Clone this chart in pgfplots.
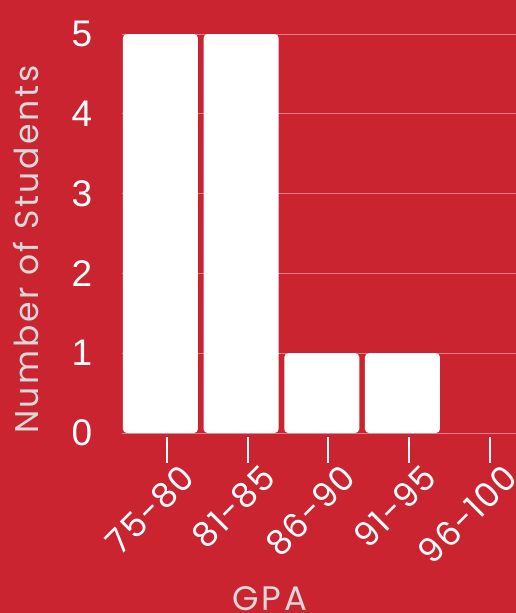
\documentclass[border=0pt]{standalone}
\usepackage{fontspec}
\setmainfont{Liberation Sans}
\newfontfamily\pop{Poppins}[LetterSpace=4]
\newfontfamily\popw{Poppins}[LetterSpace=8]
\usepackage{pgfplots}
\pgfplotsset{compat=1.18}
\definecolor{bg}{HTML}{CB2431}
\definecolor{lbl}{HTML}{D9D9D9}
\begin{document}
\begin{tikzpicture}
\useasboundingbox (0,0) rectangle (516pt,613pt);
\clip (0,0) rectangle (516pt,613pt);
\fill[bg] (0,0) rectangle (516pt,613pt);
\begin{axis}[
  at={(122.5pt,180pt)}, anchor=south west,
  scale only axis, width=393.5pt, height=399pt,
  xmin=-0.47, xmax=4.408, ymin=0, ymax=5,
  axis line style={draw=none},
  ymajorgrids, grid style={draw=white!40!bg, line width=0.8pt},
  ytick={0,1,2,3,4,5},
  ytick style={draw=none},
  tick pos=left,
  /pgf/number format/assume math mode=true,
  yticklabel style={font=\fontsize{37}{40}\selectfont, text=white, anchor=east, inner sep=0pt, xshift=-4pt},
  xtick={0.08,1.08,2.08,3.08,4.08},
  xticklabels={75-80,81-85,86-90,91-95,96-100},
  tick align=outside,
  major tick length=26pt,
  xtick style={draw=white, line width=2pt, yshift=-4pt},
  xticklabel style={font=\pop\fontsize{34}{36}\selectfont, text=white, rotate=45, anchor=north east, inner sep=0pt, xshift=6pt, yshift=-11pt},
  ylabel={Number of Students},
  ylabel style={font=\popw\fontsize{33}{36}\selectfont, text=lbl, at={(axis description cs:-0.2147,0.459)}, rotate=0, anchor=base},
  xlabel={GPA},
  xlabel style={font=\popw\fontsize{34}{36}\selectfont, text=lbl, at={(axis description cs:0.375,-0.446)}, anchor=base},
  clip=false,
]
\addplot[ybar, bar width=75pt, fill=white, draw=none, rounded corners=4pt] coordinates {(0,5) (1,5) (2,1) (3,1)};
\end{axis}
\end{tikzpicture}
\end{document}
